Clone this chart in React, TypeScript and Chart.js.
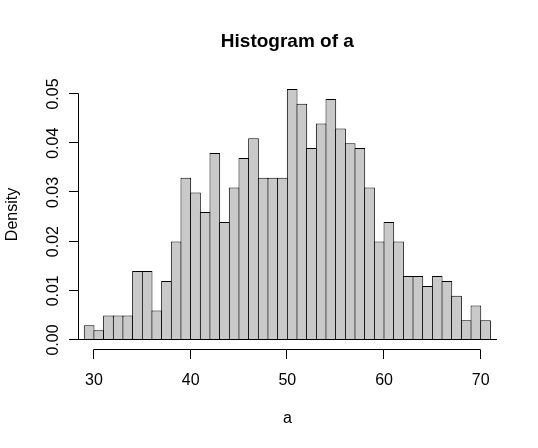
import React, { useEffect, useRef } from 'react';
import { Chart, registerables } from 'chart.js';

Chart.register(...registerables);

// ---- data ----
const breaks = [29, 30, 31, 32, 33, 34, 35, 36, 37, 38, 39, 40, 41, 42, 43, 44, 45, 46, 47, 48, 49, 50,
  51, 52, 53, 54, 55, 56, 57, 58, 59, 60, 61, 62, 63, 64, 65, 66, 67, 68, 69, 70, 71];
const density = [0.003, 0.002, 0.005, 0.005, 0.005, 0.014, 0.014, 0.006, 0.012, 0.020,
  0.033, 0.030, 0.026, 0.038, 0.024, 0.031, 0.037, 0.041, 0.033, 0.033,
  0.033, 0.051, 0.048, 0.039, 0.044, 0.049, 0.043, 0.040, 0.039, 0.031,
  0.020, 0.024, 0.020, 0.013, 0.013, 0.011, 0.013, 0.012, 0.009, 0.004,
  0.007, 0.004];
const xTicks = [30, 40, 50, 60, 70];
const xTickLabels = ['30', '40', '50', '60', '70'];
const yTicks = [0, 0.01, 0.02, 0.03, 0.04, 0.05];
const yTickLabels = ['0.00', '0.01', '0.02', '0.03', '0.04', '0.05'];
const titleText = 'Histogram of a';
const xLabel = 'a';
const yLabel = 'Density';

// ---- layout (user coordinates of the plot region) ----
const X_MIN = 27.418;
const X_MAX = 71.683;
const Y_MIN = -0.002033;
const Y_MAX = 0.05305;
const Y_AXIS_AT = 28.42;
const AREA = { left: 69, right: 497, top: 79, bottom: 350 };
const W = 538;
const H = 448;
const FONT = "'Liberation Sans', Arial, Helvetica, sans-serif";
const TICK_LEN = 9.5;

const pxPerUnit = (AREA.right - AREA.left) / (X_MAX - X_MIN);

const rAxesPlugin = {
  id: 'rAxes',
  afterDraw(chart: any) {
    const { ctx, scales } = chart;
    const xs = scales.x;
    const ys = scales.y;
    const snap = (v: number) => Math.round(v) - 0.5;
    ctx.save();
    ctx.strokeStyle = '#000';
    ctx.fillStyle = '#000';
    ctx.lineWidth = 1;

    // baseline at y = 0
    const yZero = snap(ys.getPixelForValue(0));
    ctx.beginPath();
    ctx.moveTo(xs.getPixelForValue(X_MIN), yZero);
    ctx.lineTo(xs.getPixelForValue(X_MAX), yZero);
    ctx.stroke();

    // x axis
    const xAxisY = snap(ys.getPixelForValue(Y_MIN));
    ctx.beginPath();
    ctx.moveTo(snap(xs.getPixelForValue(xTicks[0])), xAxisY);
    ctx.lineTo(snap(xs.getPixelForValue(xTicks[xTicks.length - 1])), xAxisY);
    xTicks.forEach((t) => {
      const px = snap(xs.getPixelForValue(t));
      ctx.moveTo(px, xAxisY);
      ctx.lineTo(px, xAxisY + TICK_LEN);
    });
    ctx.stroke();
    ctx.font = `16px ${FONT}`;
    ctx.textAlign = 'center';
    ctx.textBaseline = 'alphabetic';
    xTicks.forEach((t, i) => {
      ctx.fillText(xTickLabels[i], xs.getPixelForValue(t), 385);
    });

    // y axis
    const yAxisX = snap(xs.getPixelForValue(Y_AXIS_AT));
    ctx.beginPath();
    ctx.moveTo(yAxisX, snap(ys.getPixelForValue(yTicks[0])));
    ctx.lineTo(yAxisX, snap(ys.getPixelForValue(yTicks[yTicks.length - 1])));
    yTicks.forEach((t) => {
      const py = snap(ys.getPixelForValue(t));
      ctx.moveTo(yAxisX, py);
      ctx.lineTo(yAxisX - TICK_LEN, py);
    });
    ctx.stroke();
    yTicks.forEach((t, i) => {
      ctx.save();
      ctx.translate(57.5, ys.getPixelForValue(t));
      ctx.rotate(-Math.PI / 2);
      ctx.textAlign = 'center';
      ctx.fillText(yTickLabels[i], 0, 0);
      ctx.restore();
    });

    // axis titles
    ctx.fillText(xLabel, xs.getPixelForValue(50), 423);
    ctx.save();
    ctx.translate(17, (AREA.top + AREA.bottom) / 2);
    ctx.rotate(-Math.PI / 2);
    ctx.textAlign = 'center';
    ctx.fillText(yLabel, 0, 0);
    ctx.restore();

    // main title
    ctx.font = `bold 19px ${FONT}`;
    ctx.textAlign = 'center';
    ctx.fillText(titleText, xs.getPixelForValue(50), 46.5);

    ctx.restore();
  },
};

export default function App() {
  const ref = useRef<HTMLCanvasElement | null>(null);

  useEffect(() => {
    if (!ref.current) return;
    const points = density.map((d, i) => ({ x: (breaks[i] + breaks[i + 1]) / 2, y: d }));
    const chart = new Chart(ref.current, {
      type: 'bar',
      data: {
        datasets: [
          {
            data: points,
            backgroundColor: '#c9c9c9',
            borderColor: '#000000',
            borderWidth: 1,
            borderSkipped: 'start',
            barPercentage: 1 + 1 / pxPerUnit,
            categoryPercentage: 1,
            inflateAmount: 0,
            grouped: false,
          } as any,
        ],
      },
      options: {
        responsive: false,
        animation: false,
        devicePixelRatio: 1,
        layout: {
          padding: { left: AREA.left, right: W - AREA.right, top: AREA.top, bottom: H - AREA.bottom },
        },
        plugins: {
          legend: { display: false },
          title: { display: false },
          tooltip: { enabled: false },
        },
        scales: {
          x: { type: 'linear', display: false, offset: false, min: X_MIN, max: X_MAX, ticks: { stepSize: 5 } },
          y: { type: 'linear', display: false, min: Y_MIN, max: Y_MAX },
        },
      },
      plugins: [rAxesPlugin],
    });
    return () => chart.destroy();
  }, []);

  return (
    <div style={{ position: 'absolute', left: 0, top: 0, width: W, height: H, background: '#fff' }}>
      <canvas ref={ref} width={W} height={H} style={{ width: W, height: H, display: 'block' }} />
    </div>
  );
}
